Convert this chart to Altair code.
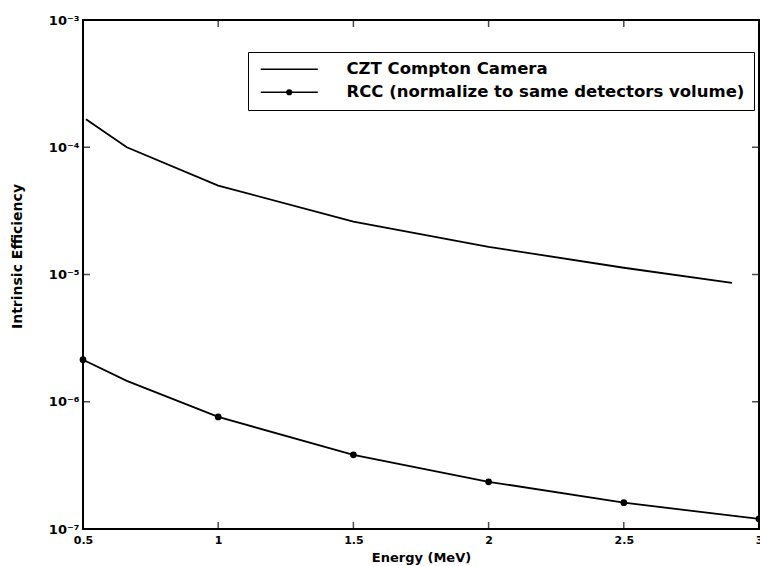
import altair as alt
import pandas as pd

czt_label = "CZT Compton Camera"
rcc_label = "RCC (normalize to same detectors volume)"

czt_energy = [0.511, 0.662, 1.0, 1.5, 2.0, 2.5, 2.9]
czt_eff = [1.66e-4, 1.0e-4, 5.0e-5, 2.6e-5, 1.65e-5, 1.13e-5, 8.6e-6]

rcc_energy = [0.5, 0.662, 1.0, 1.5, 2.0, 2.5, 3.0]
rcc_eff = [2.14e-6, 1.46e-6, 7.6e-7, 3.83e-7, 2.35e-7, 1.61e-7, 1.2e-7]
rcc_marked = [True, False, True, True, True, True, True]

x_ticks = [0.5, 1, 1.5, 2, 2.5, 3]
y_ticks = [1e-7, 1e-6, 1e-5, 1e-4, 1e-3]

FONT = "DejaVu Sans"
W, H = 676, 509

lines = pd.concat([
    pd.DataFrame({"energy": czt_energy, "eff": czt_eff, "series": czt_label, "marked": False}),
    pd.DataFrame({"energy": rcc_energy, "eff": rcc_eff, "series": rcc_label, "marked": rcc_marked}),
], ignore_index=True)
lines["order"] = range(len(lines))

x_scale = alt.Scale(domain=[0.5, 3], nice=False, zero=False)
y_scale = alt.Scale(type="log", domain=[1e-7, 1e-3], nice=False)

x_axis = alt.Axis(
    values=x_ticks, format="~g", tickSize=0, domain=False, grid=False, labelFlush=False,
    labelFont=FONT, labelFontWeight="bold", labelFontSize=11, labelColor="black", labelPadding=5,
    title="Energy (MeV)", titleFont=FONT, titleFontWeight="bold", titleFontSize=13, titleColor="black",
    titleY=28, titleBaseline="middle",
)
y_axis = alt.Axis(
    values=y_ticks, tickSize=0, domain=False, grid=False,
    labelExpr="'10⁻' + ['⁰','¹','²','³','⁴','⁵','⁶','⁷'][-round(log(datum.value)/LN10)]",
    labelFont=FONT, labelFontWeight="bold", labelFontSize=13, labelColor="black", labelPadding=4,
    title="Intrinsic Efficiency", titleFont=FONT, titleFontWeight="bold", titleFontSize=14, titleColor="black",
    titleAngle=270, titleX=-66, titleY=236, titleAlign="center", titleBaseline="middle",
)

sym_expr = ("datum.value === '" + rcc_label + "' ? "
            "'M-8.6,0H8.6M0.7,0A0.7,0.7,0,1,1,-0.7,0A0.7,0.7,0,1,1,0.7,0' : 'M-8.6,0H8.6'")

legend = alt.Legend(
    title=None, orient="none", legendX=165, legendY=32, direction="vertical",
    strokeColor="black", fillColor="white", padding=9, cornerRadius=0,
    symbolSize=44, symbolStrokeWidth=1.5, symbolStrokeColor="black", symbolFillColor="black",
    symbolOffset=24, symbolType=alt.ExprRef(expr=sym_expr),
    labelOffset=49, labelFont=FONT, labelFontSize=16.5, labelFontWeight="bold", labelColor="black",
    labelLimit=0, rowPadding=6,
)

line_layer = alt.Chart(lines).mark_line(strokeWidth=1.8).encode(
    x=alt.X("energy:Q", scale=x_scale, axis=x_axis),
    y=alt.Y("eff:Q", scale=y_scale, axis=y_axis),
    color=alt.Color("series:N", scale=alt.Scale(domain=[czt_label, rcc_label], range=["black", "black"]),
                    legend=legend),
    order="order:Q",
)

point_layer = alt.Chart(lines).transform_filter("datum.marked").mark_circle(
    size=45, color="black", opacity=1
).encode(
    x=alt.X("energy:Q", scale=x_scale),
    y=alt.Y("eff:Q", scale=y_scale),
)

tick_x = pd.DataFrame({"v": x_ticks})
tick_y = pd.DataFrame({"v": y_ticks})

xt_bottom = alt.Chart(tick_x).mark_tick(orient="vertical", size=7, thickness=1.5, color="black").encode(
    x=alt.X("v:Q", scale=x_scale), y=alt.value(H - 3.5))
xt_top = alt.Chart(tick_x).mark_tick(orient="vertical", size=7, thickness=1.5, color="black").encode(
    x=alt.X("v:Q", scale=x_scale), y=alt.value(3.5))
yt_left = alt.Chart(tick_y).mark_tick(orient="horizontal", size=7, thickness=1.5, color="black").encode(
    y=alt.Y("v:Q", scale=y_scale), x=alt.value(3.5))
yt_right = alt.Chart(tick_y).mark_tick(orient="horizontal", size=7, thickness=1.5, color="black").encode(
    y=alt.Y("v:Q", scale=y_scale), x=alt.value(W - 3.5))

chart = alt.layer(line_layer, point_layer, xt_bottom, xt_top, yt_left, yt_right).properties(
    width=W, height=H,
    autosize=alt.AutoSizeParams(type="none"),
    padding={"left": 83, "top": 20, "right": 1, "bottom": 37},
    background="white",
).configure_view(stroke="black", strokeWidth=2)

chart.save("out.html", embed_options={"renderer": "svg", "actions": False})
